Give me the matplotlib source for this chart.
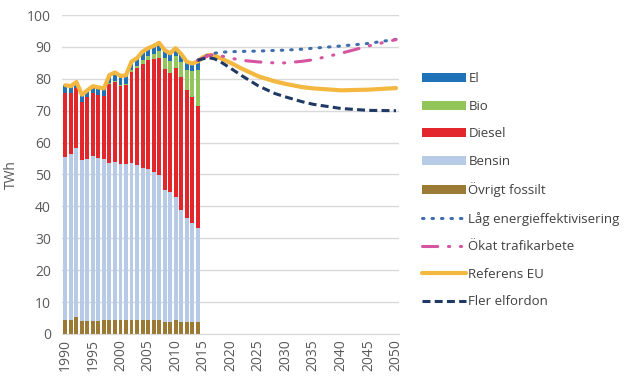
import matplotlib
matplotlib.use("Agg")
import matplotlib.pyplot as plt
import numpy as np

plt.rcParams['font.family'] = ['Open Sans', 'DejaVu Sans']

# historical fuel use (TWh), 1990-2014
years = list(range(1990, 2015))
ovrigt = [4.5, 4.5, 5.3, 4.0, 4.0, 4.0, 4.0, 4.2, 4.3, 4.5, 4.5, 4.5, 4.4,
          4.5, 4.5, 4.5, 4.4, 4.2, 3.8, 3.6, 4.2, 3.6, 3.8, 3.8, 3.8]
bensin = [51.1, 51.9, 53.0, 50.5, 50.8, 51.8, 51.3, 50.6, 49.4, 49.5, 48.9,
          48.9, 49.3, 48.5, 47.6, 47.3, 46.4, 45.7, 41.2, 40.9, 38.8, 35.4,
          32.5, 31.0, 29.4]
diesel = [19.8, 19.0, 18.7, 18.3, 19.6, 19.8, 19.7, 19.9, 24.7, 25.0, 24.3,
          24.6, 28.5, 30.3, 32.7, 34.1, 35.3, 36.5, 38.0, 37.2, 40.3, 41.6,
          40.2, 39.4, 38.3]
bio = [0, 0, 0, 0, 0, 0, 0, 0, 0.3, 0.4, 0.4, 0.5, 0.7, 0.7, 1.2, 1.2, 1.7,
       2.4, 3.5, 3.8, 3.8, 4.7, 6.4, 8.1, 11.4]
el = [2.6, 2.3, 2.0, 2.2, 2.0, 2.1, 2.3, 2.3, 2.5, 2.6, 2.8, 2.6, 2.5, 2.5,
      2.5, 2.5, 2.5, 2.5, 2.5, 2.5, 2.5, 2.5, 2.5, 2.5, 2.5]

# scenarios (TWh)
scen_years = [2014, 2015, 2016, 2017, 2018, 2020, 2022, 2025, 2028, 2030,
              2033, 2035, 2040, 2045, 2050]
lag_eff = [85.8, 86.8, 87.5, 88.0, 88.3, 88.5, 88.6, 88.7, 88.9, 89.0, 89.3,
           89.6, 90.3, 91.1, 92.4]
okat_trafik = [85.8, 86.5, 87.3, 87.6, 87.3, 86.5, 85.8, 85.3, 85.0, 85.0,
               85.5, 86.0, 88.0, 90.3, 92.3]
referens = [85.8, 86.8, 87.5, 87.3, 86.6, 85.0, 83.2, 80.8, 79.2, 78.4, 77.4,
            77.0, 76.4, 76.6, 77.1]
fler_el = [85.8, 86.3, 86.6, 86.3, 85.5, 83.3, 81.0, 77.8, 75.4, 74.3, 72.8,
           72.0, 70.7, 70.1, 70.0]

fig = plt.figure(figsize=(6.27, 3.86), dpi=100)
ax = fig.add_axes([0.099, 0.135, 0.537, 0.826])

x = np.array(years)
w = 0.72
bottom = np.zeros(len(years))
series = [(ovrigt, '#9a7a34', 'Övrigt fossilt'),
          (bensin, '#b7cbe6', 'Bensin'),
          (diesel, '#e3262c', 'Diesel'),
          (bio, '#92c65a', 'Bio'),
          (el, '#1f72b8', 'El')]
bars = {}
for vals, col, lab in series:
    bars[lab] = ax.bar(x, vals, w, bottom=bottom, color=col, label=lab,
                       zorder=2, linewidth=0)
    bottom = bottom + np.array(vals)

totals = bottom
ref_x = years + scen_years[1:]
ref_y = list(totals) + referens[1:]

l_lag, = ax.plot(scen_years, lag_eff, color='#3e6eae', lw=2.2,
                 linestyle=(0, (0.5, 2.6)), dash_capstyle='round', zorder=4)
l_okat, = ax.plot(scen_years, okat_trafik, color='#d654a0', lw=2.2,
                  linestyle=(0, (5, 3.5, 0.4, 3.5, 0.4, 3.5)),
                  dash_capstyle='round', zorder=4)
l_ref, = ax.plot(ref_x, ref_y, color='#f4b73f', lw=3.0, zorder=3,
                 solid_capstyle='round')
l_fler, = ax.plot(scen_years, fler_el, color='#1f3864', lw=2.2,
                  linestyle=(0, (2.6, 1.4)), zorder=4)

ax.set_ylim(0, 100)
ax.set_xlim(1989.4, 2050.5)
ax.set_yticks(range(0, 101, 10))
ax.set_xticks(range(1990, 2051, 5))
ax.tick_params(axis='x', rotation=90, length=0, labelsize=10,
               colors='#595959', pad=4)
ax.tick_params(axis='y', length=0, labelsize=10, colors='#595959', pad=8)
ax.grid(axis='y', color='#d9d9d9', linewidth=1, zorder=0)
ax.set_axisbelow(True)
for s in ['top', 'right', 'left']:
    ax.spines[s].set_visible(False)
ax.spines['bottom'].set_color('#d9d9d9')
ax.set_ylabel('TWh', fontsize=10, color='#595959', labelpad=6)

handles = [bars['El'], bars['Bio'], bars['Diesel'], bars['Bensin'],
           bars['Övrigt fossilt'], l_lag, l_okat, l_ref, l_fler]
labels = ['El', 'Bio', 'Diesel', 'Bensin', 'Övrigt fossilt',
          'Låg energieffektivisering', 'Ökat trafikarbete', 'Referens EU',
          'Fler elfordon']
fig.legend(handles, labels, loc='upper left',
           bbox_to_anchor=(0.665, 0.826), frameon=False, fontsize=9.5,
           labelcolor='#404040', handlelength=3.3, handleheight=0.7,
           handletextpad=0.2, labelspacing=1.1, borderaxespad=0)

fig.savefig('out.png', dpi=100)
